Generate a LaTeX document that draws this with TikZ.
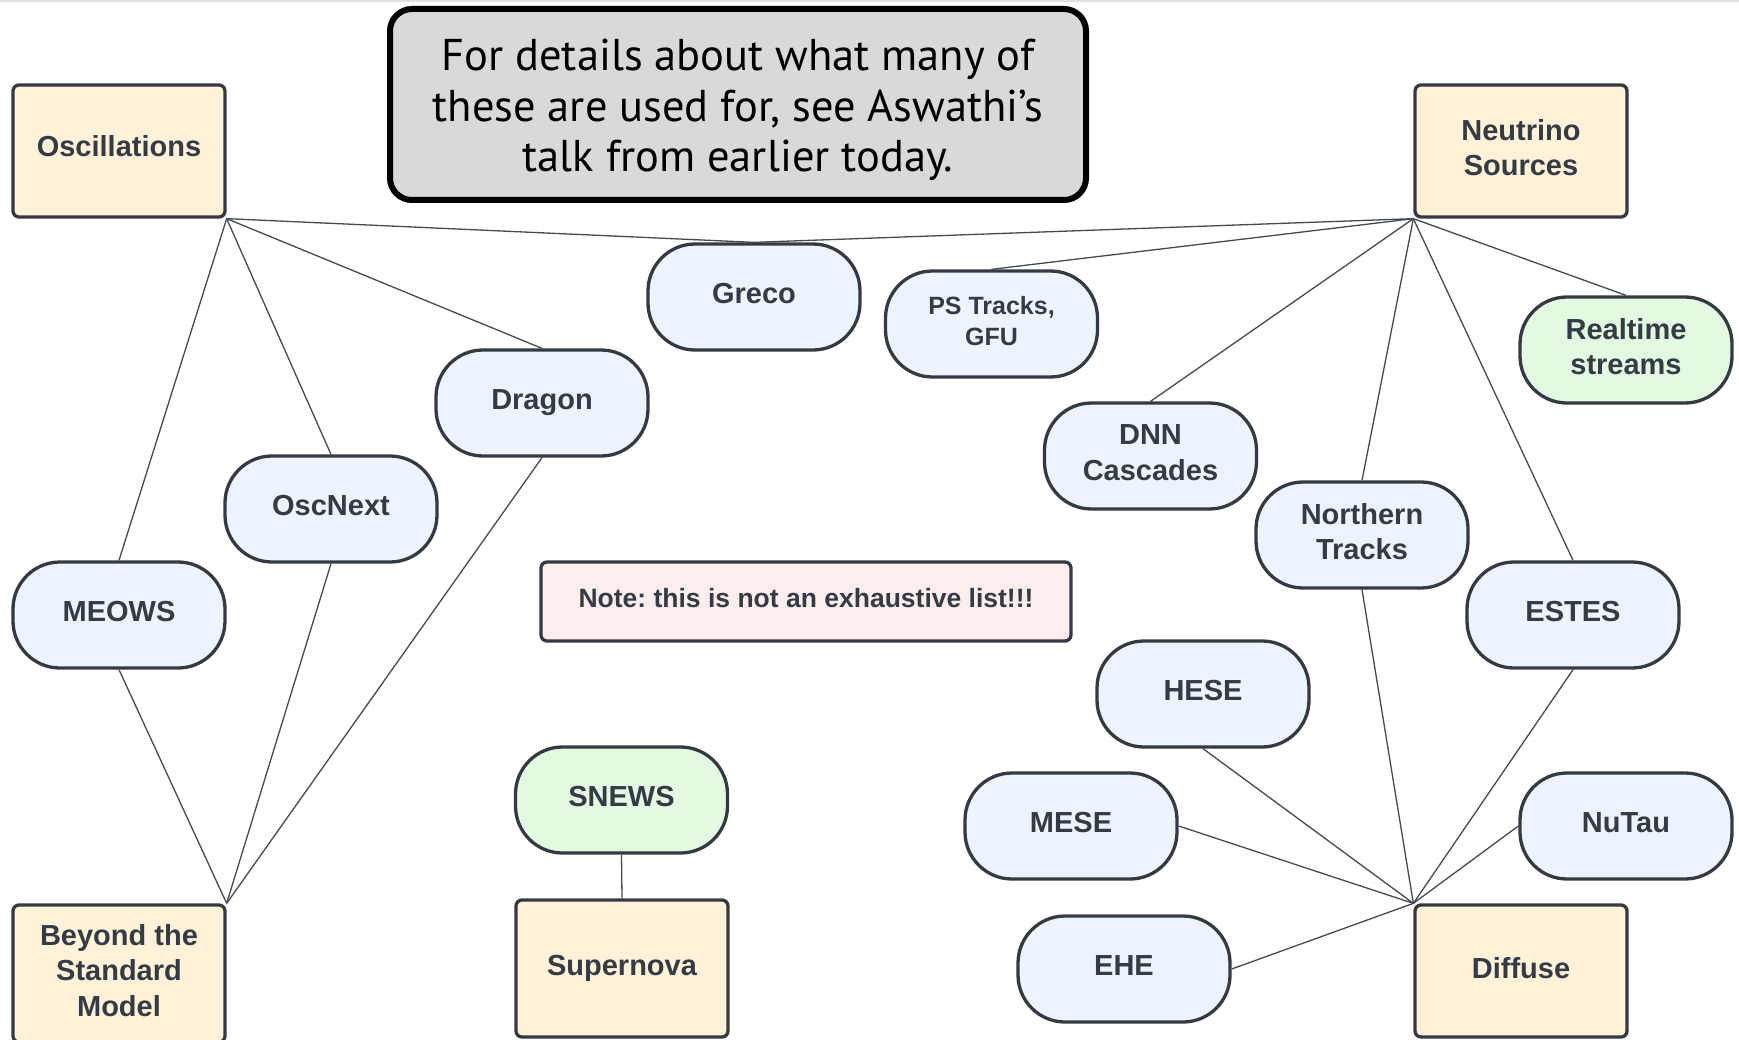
\documentclass[tikz,border=0pt]{standalone}
\usepackage{fontspec}
\setmainfont{Liberation Sans}
\newfontfamily\notefont{PT Sans}
\frenchspacing
\definecolor{txt}{HTML}{353B45}
\definecolor{edge}{HTML}{353A42}
\definecolor{cream}{HTML}{FFF2D9}
\definecolor{pillblue}{HTML}{EDF4FF}
\definecolor{pillgreen}{HTML}{E2F9E2}
\definecolor{notepink}{HTML}{FDEEEE}
\definecolor{infogray}{HTML}{D9D9D9}
\definecolor{conn}{HTML}{444A52}
\newcommand{\lowstrut}{\rule[-7pt]{0pt}{7pt}}
\newcommand{\deepstrut}{\rule[-10pt]{0pt}{10pt}}
\newcommand{\highstrut}{\rule{0pt}{144pt}}
\tikzset{
  base/.style={draw=edge, line width=3.3pt, text=txt, align=center,
    font=\fontsize{29}{35.5}\selectfont\bfseries, inner sep=0pt,
    execute at end node=\lowstrut},
  topicbox/.style={base, fill=cream, rounded corners=6pt, minimum width=212pt, minimum height=132pt},
  pill/.style={base, fill=pillblue, rounded corners=47pt, minimum width=212pt, minimum height=106pt},
  greenpill/.style={pill, fill=pillgreen},
  notebox/.style={base, fill=notepink, rounded corners=6pt, minimum width=530pt, minimum height=79pt,
    font=\fontsize{26.5}{31}\selectfont\bfseries},
  infobox/.style={draw=black, line width=6pt, fill=infogray, rounded corners=22pt,
    minimum width=696pt, minimum height=191pt, align=center, inner sep=0pt,
    font=\notefont\fontsize{44.5}{50.5}\selectfont, execute at begin node=\highstrut},
  link/.style={draw=conn, line width=1.3pt}
}
\begin{document}
\begin{tikzpicture}[x=1pt,y=-1pt]
\useasboundingbox (0,0) rectangle (1739,1040);
\fill[white] (0,0) rectangle (1739,1040);
\draw[black!12, line width=2pt] (0,1) -- (1739,1);
% info box
\node[infobox] (info) at (738,104.5) {For details about what many of\\these are used for, see Aswathi’s\\talk from earlier today.};
% topics
\node[topicbox, execute at end node=\deepstrut] (osc) at (119,151) {Oscillations};
\node[topicbox] (ns) at (1521,151) {Neutrino\\Sources};
\node[topicbox, minimum height=137pt] (bsm) at (119,973.5) {Beyond the\\Standard\\Model};
\node[topicbox, minimum height=137pt] (sn) at (622,968.5) {Supernova};
\node[topicbox] (diff) at (1521,971) {Diffuse};
% pills
\node[pill] (greco) at (754,297) {Greco};
\node[pill, font=\fontsize{25}{31}\selectfont\bfseries] (ps) at (991.5,324) {PS Tracks,\\GFU};
\node[greenpill] (rt) at (1626,350) {Realtime\\streams};
\node[pill] (dragon) at (542,403) {Dragon};
\node[pill] (dnn) at (1150.5,456) {DNN\\Cascades};
\node[pill] (oscnext) at (331,509) {OscNext};
\node[pill] (nt) at (1362,535) {Northern\\Tracks};
\node[pill] (meows) at (119,615) {MEOWS};
\node[pill] (estes) at (1573,615) {ESTES};
\node[pill] (hese) at (1203,694) {HESE};
\node[greenpill] (snews) at (621.5,800) {SNEWS};
\node[pill] (mese) at (1071,826) {MESE};
\node[pill] (nutau) at (1626,826) {NuTau};
\node[pill] (ehe) at (1124,969) {EHE};
% note
\node[notebox] (note) at (806,601.5) {Note: this is not an exhaustive list!!!};
% connectors
\draw[link] (osc.south east) -- (greco.north);
\draw[link] (osc.south east) -- (dragon.north);
\draw[link] (osc.south east) -- (oscnext.north);
\draw[link] (osc.south east) -- (meows.north);
\draw[link] (ns.south west) -- (greco.north);
\draw[link] (ns.south west) -- (ps.north);
\draw[link] (ns.south west) -- (dnn.north);
\draw[link] (ns.south west) -- (nt.north);
\draw[link] (ns.south west) -- (estes.north);
\draw[link] (ns.south west) -- (rt.north);
\draw[link] (meows.south) -- (bsm.north east);
\draw[link] (oscnext.south) -- (bsm.north east);
\draw[link] (dragon.south) -- (bsm.north east);
\draw[link] (snews.south) -- (sn.north);
\draw[link] (nt.south) -- (diff.north west);
\draw[link] (estes.south) -- (diff.north west);
\draw[link] (hese.south) -- (diff.north west);
\draw[link] (mese.east) -- (diff.north west);
\draw[link] (nutau.west) -- (diff.north west);
\draw[link] (ehe.east) -- (diff.north west);
\end{tikzpicture}
\end{document}
